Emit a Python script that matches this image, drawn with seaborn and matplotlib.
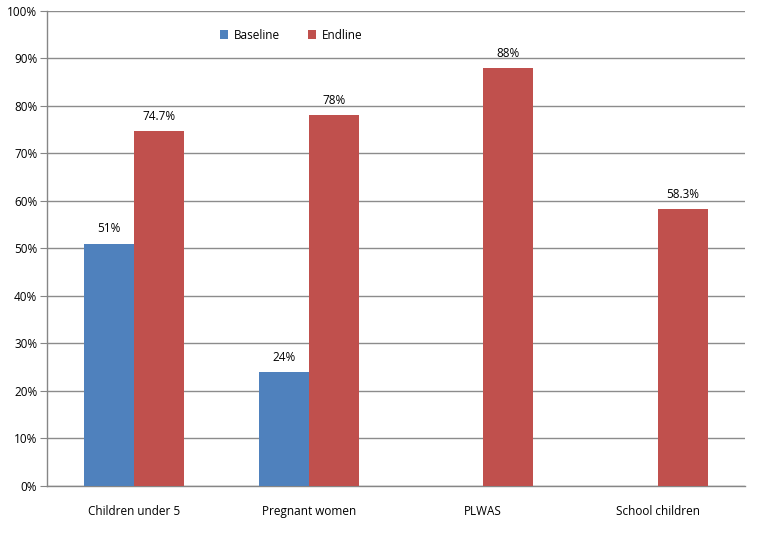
import numpy as np
import pandas as pd
import matplotlib
matplotlib.use("Agg")
import matplotlib.pyplot as plt
import seaborn as sns

categories = ["Children under 5", "Pregnant women", "PLWAS", "School children"]
baseline = [51, 24, np.nan, np.nan]
endline = [74.7, 78, 88, 58.3]
baseline_labels = ["51%", "24%", "", ""]
endline_labels = ["74.7%", "78%", "88%", "58.3%"]

df = pd.DataFrame({
    "group": categories * 2,
    "value": baseline + endline,
    "series": ["Baseline"] * 4 + ["Endline"] * 4,
})

sns.set_style("white")
plt.rcParams["font.family"] = ["Open Sans", "DejaVu Sans"]
plt.rcParams["text.color"] = "black"
plt.rcParams["xtick.color"] = "black"
plt.rcParams["ytick.color"] = "black"

fig = plt.figure(figsize=(7.69, 5.33), dpi=100)
ax = fig.add_axes([0.0611, 0.0882, 0.9077, 0.8912])

sns.barplot(data=df, x="group", y="value", hue="series", order=categories,
            hue_order=["Baseline", "Endline"],
            palette=["#4F81BD", "#C0504D"], width=0.573, saturation=1,
            errorbar=None, linewidth=0, ax=ax, zorder=3)

# label bars, skipping the missing ones
for cont, labs in zip(ax.containers, [baseline_labels, endline_labels]):
    for bar, lab in zip(cont, labs):
        if bar is None or lab == "":
            continue
        ax.annotate(lab, (bar.get_x() + bar.get_width() / 2, bar.get_height()),
                    xytext=(0, 6), textcoords="offset points",
                    ha="center", va="bottom", fontsize=8.5, color="black")

ax.set_ylim(0, 100)
ax.set_xlim(-0.5, 3.5)
ax.set_yticks(np.arange(0, 101, 10))
ax.set_yticklabels([f"{v}%" for v in range(0, 101, 10)], fontsize=8.5)
ax.set_xticks([0, 1, 2, 3])
ax.set_xticklabels(categories, fontsize=8.5)
ax.set_xticks([-0.5, 0.5, 1.5, 2.5, 3.5], minor=True)
ax.tick_params(axis="x", which="major", length=0, pad=14)
ax.tick_params(axis="x", which="minor", length=5, color="#868686", direction="out")
ax.tick_params(axis="y", length=5, color="#868686", labelcolor="black",
               direction="out", pad=2, left=True)
ax.tick_params(axis="x", labelcolor="black")
ax.set_xlabel("")
ax.set_ylabel("")

ax.grid(axis="y", color="#8C8C8C", linewidth=1, zorder=0)
ax.set_axisbelow(True)
for side in ["top", "right"]:
    ax.spines[side].set_visible(False)
for side in ["left", "bottom"]:
    ax.spines[side].set_color("#868686")
    ax.spines[side].set_linewidth(1)

leg = ax.legend(loc="center", bbox_to_anchor=(0.35, 0.949), ncol=2, frameon=False,
                fontsize=8.5, handlelength=0.7, handleheight=0.7, columnspacing=2.3,
                handletextpad=0.5)
leg.set_title(None)

fig.savefig("out.png", dpi=100)
